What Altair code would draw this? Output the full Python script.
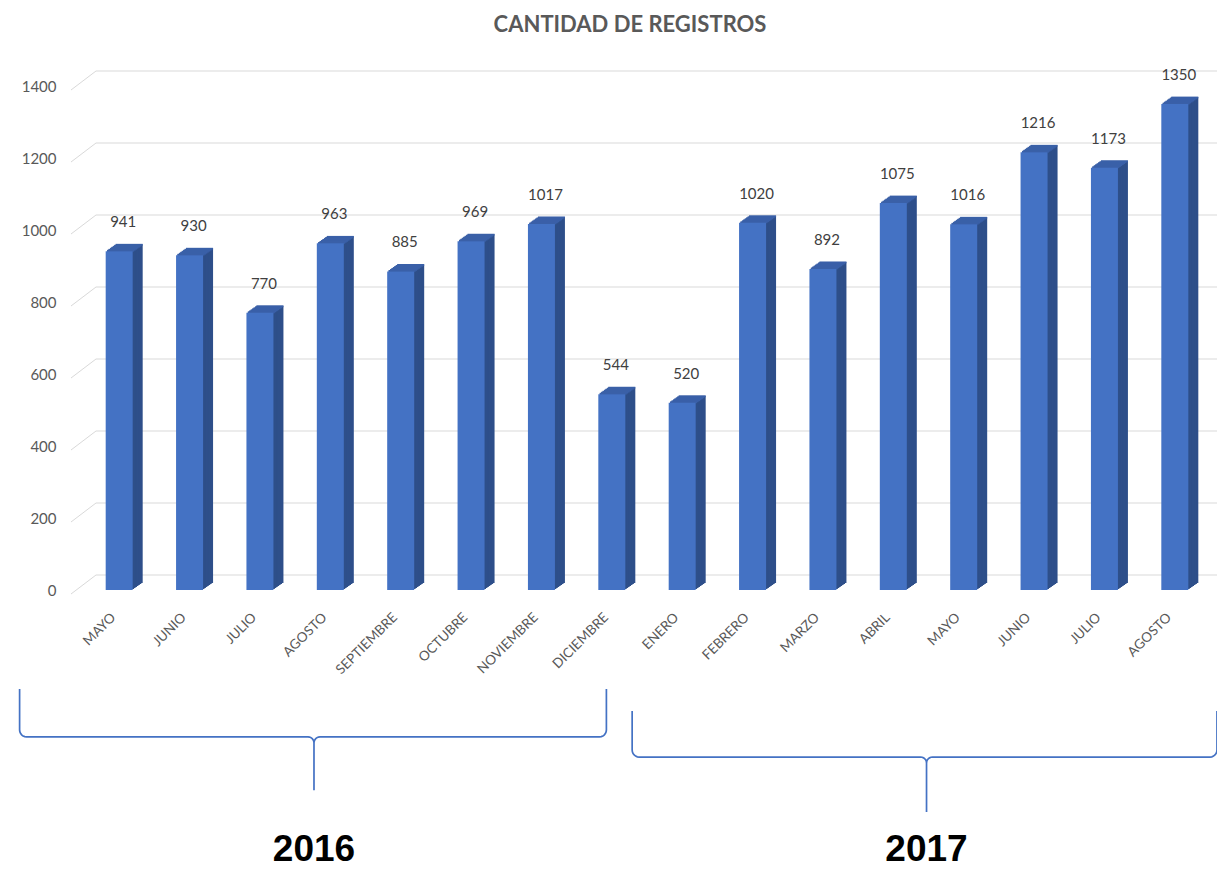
import math
import altair as alt
import pandas as pd

# ---------------- data ----------------
months = ["MAYO", "JUNIO", "JULIO", "AGOSTO", "SEPTIEMBRE", "OCTUBRE", "NOVIEMBRE",
          "DICIEMBRE", "ENERO", "FEBRERO", "MARZO", "ABRIL", "MAYO", "JUNIO",
          "JULIO", "AGOSTO"]
values = [941, 930, 770, 963, 885, 969, 1017, 544, 520, 1020, 892, 1075, 1016,
          1216, 1173, 1350]
y_ticks = [0, 200, 400, 600, 800, 1000, 1200, 1400]

year_labels = ["2016", "2017"]
# brace geometry in data units (x = bar index, y = value units)
brace_start = [-1.415, 7.289]
brace_end = [6.923, 15.599]
brace_mid = [2.768, 11.472]
brace_top = [-275, -336]
brace_line = [-408, -464]
brace_tip = [-556, -617]
year_text_y = [-752, -752]

TITLE = "CANTIDAD DE REGISTROS"

# ---------------- styling ----------------
FRONT = "#4472C4"
SIDE = "#2E4F8A"
TOP = "#3A60A8"
GRID = "#D9D9D9"
LABEL = "#595959"
FONT = "Lato"

W, H = 1136, 504
SX = W / 16.0          # px per index unit
SY = H / 1400.0        # px per value unit
N_STEPS = 7
DX = 10.0 / N_STEPS
DY = 7.0 / N_STEPS
BAR_W = 27

xscale = alt.Scale(domain=[-0.5, 15.5], nice=False, zero=False)
yscale = alt.Scale(domain=[0, 1400], nice=False, zero=False)

label_expr = "[" + ",".join("'%s'" % m for m in months) + "][datum.value]"
AXIS_X = alt.Axis(values=list(range(len(months))), labelExpr=label_expr, title=None,
                  grid=False, ticks=False, domain=False, labelAngle=-45,
                  labelAlign="right", labelBaseline="middle", labelPadding=25,
                  labelOffset=-6, labelFontSize=13.5, labelColor=LABEL, labelFont=FONT,
                  labelOverlap=False, labelFlush=False, labelBound=False)
AXIS_Y = alt.Axis(values=y_ticks, format="d", title=None, grid=False, ticks=False,
                  domain=False, labelPadding=23, labelFontSize=15, labelColor=LABEL,
                  labelFont=FONT)

bars_df = pd.DataFrame({"i": list(range(len(values))), "v": values,
                        "z": [0] * len(values), "m": months})
grid_df = pd.DataFrame({"t": y_ticks})


def brace_points(g, x0, x1, xm, top, line, tip):
    r, r2 = 7.0, 6.0
    pts = []

    def add(bx, by, xpx, ypx):
        # ypx positive = downward on screen
        pts.append((bx + xpx / SX, by - ypx / SY))

    add(x0, top, 0, 0)
    for a in range(0, 91, 15):
        t = math.radians(a)
        add(x0, line, r - r * math.cos(t), -r + r * math.sin(t))
    for a in range(0, 91, 15):
        t = math.radians(a)
        add(xm, line, -r2 + r2 * math.sin(t), r2 - r2 * math.cos(t))
    add(xm, tip, 0, 0)
    for a in range(90, -1, -15):
        t = math.radians(a)
        add(xm, line, r2 - r2 * math.sin(t), r2 - r2 * math.cos(t))
    for a in range(90, -1, -15):
        t = math.radians(a)
        add(x1, line, -r + r * math.cos(t), -r + r * math.sin(t))
    add(x1, top, 0, 0)
    return [{"g": g, "o": k, "x": p[0], "y": p[1]} for k, p in enumerate(pts)]


brace_rows = []
for j in range(len(year_labels)):
    brace_rows += brace_points(year_labels[j], brace_start[j], brace_end[j],
                               brace_mid[j], brace_top[j], brace_line[j], brace_tip[j])
brace_df = pd.DataFrame(brace_rows)
years_df = pd.DataFrame({"label": year_labels, "x": brace_mid, "y": year_text_y})
title_df = pd.DataFrame({"label": [TITLE]})

# ---------------- layers ----------------
X_bar = alt.X("i:Q", scale=xscale, axis=AXIS_X)
Y_bar = alt.Y("v:Q", scale=yscale, axis=AXIS_Y)

# 3D gridlines (back wall + left diagonal)
grid_back = alt.Chart(grid_df).mark_rule(color=GRID, strokeWidth=1, yOffset=-15).encode(
    x=alt.value(17), x2=alt.value(W + 20),
    y=alt.Y("t:Q", scale=yscale, axis=AXIS_Y))
grid_diag = alt.Chart(grid_df).mark_rule(color=GRID, strokeWidth=1, yOffset=4, y2Offset=-15).encode(
    x=alt.value(-8), x2=alt.value(17),
    y=alt.Y("t:Q", scale=yscale, axis=AXIS_Y), y2="t:Q")

layers = [grid_back, grid_diag]

# side faces (stack of shifted bars)
for k in range(N_STEPS, 0, -1):
    layers.append(
        alt.Chart(bars_df).mark_bar(width=BAR_W, color=SIDE, xOffset=k * DX, x2Offset=k * DX,
                                    yOffset=-k * DY, y2Offset=-k * DY).encode(
            x=X_bar, y=Y_bar, y2="z:Q"))
# top faces
for k in range(N_STEPS, 0, -1):
    layers.append(
        alt.Chart(bars_df).mark_bar(width=BAR_W, color=TOP, xOffset=k * DX, x2Offset=k * DX,
                                    yOffset=-k * DY - 0.4, y2Offset=-(k - 1) * DY + 0.4).encode(
            x=X_bar, y=Y_bar, y2="v:Q"))

front = alt.Chart(bars_df).mark_bar(width=BAR_W, color=FRONT).encode(
    x=X_bar, y=Y_bar, y2="z:Q")
layers.append(front)

value_labels = alt.Chart(bars_df).mark_text(dy=-29, dx=4, fontSize=15, color="#404040",
                                            font=FONT, baseline="middle").encode(
    x=X_bar, y=Y_bar, text="v:Q")
layers.append(value_labels)

braces = alt.Chart(brace_df).mark_line(color="#4472C4", strokeWidth=1.7).encode(
    x=alt.X("x:Q", scale=xscale, axis=AXIS_X),
    y=alt.Y("y:Q", scale=yscale, axis=AXIS_Y),
    detail="g:N", order="o:Q")
layers.append(braces)

year_text = alt.Chart(years_df).mark_text(font="Liberation Sans", fontWeight="bold",
                                         fontSize=37, color="#000000", baseline="alphabetic").encode(
    x=alt.X("x:Q", scale=xscale, axis=AXIS_X),
    y=alt.Y("y:Q", scale=yscale, axis=AXIS_Y),
    text="label:N")
layers.append(year_text)

title_text = alt.Chart(title_df).mark_text(font=FONT, fontWeight="bold", fontSize=22,
                                          color=LABEL, baseline="middle", align="center").encode(
    x=alt.value(W / 2 - 17), y=alt.value(-61), text="label:N")
layers.append(title_text)

chart = alt.layer(*layers).properties(
    width=W, height=H,
    autosize=alt.AutoSizeParams(type="none"),
    padding={"left": 71, "top": 78, "right": 2, "bottom": 278},
).configure_view(stroke=None)

chart.save("out.html", embed_options={"renderer": "svg", "actions": False})
